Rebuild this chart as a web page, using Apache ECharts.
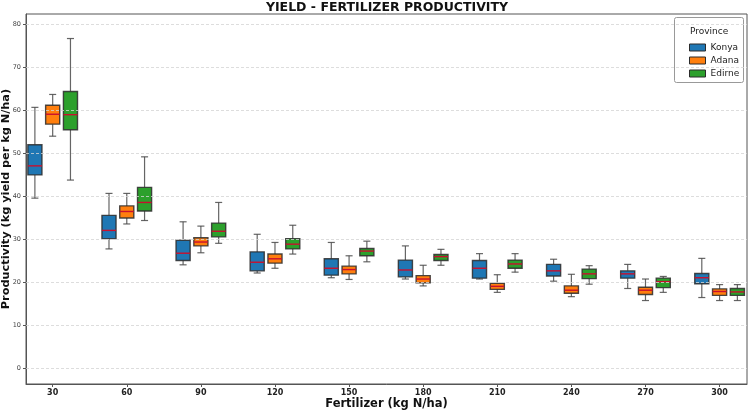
<!DOCTYPE html>
<html>
<head>
<meta charset="utf-8">
<script src="https://cdn.jsdelivr.net/npm/echarts@6/dist/echarts.min.js"></script>
<style>
  html, body { margin: 0; padding: 0; background: #fff; }
  #chart { width: 749px; height: 412px; }
</style>
</head>
<body>
<div id="chart"></div>
<script>
  // fertilizer levels (kg N/ha)
  const fertilizer = ['30', '60', '90', '120', '150', '180', '210', '240', '270', '300'];
  const yTicks = [0, 10, 20, 30, 40, 50, 60, 70, 80];
  const provinces = ['Konya', 'Adana', 'Edirne'];
  const colors = ['#1f77b4', '#ff7f0e', '#2ca02c'];

  // [low whisker, Q1, median, Q3, high whisker]
  const konya = [
    [39.5, 44.9, 47.0, 51.9, 60.6],
    [27.7, 30.1, 32.0, 35.5, 40.6],
    [24.0, 25.0, 26.7, 29.7, 34.0],
    [22.1, 22.6, 24.6, 27.0, 31.1],
    [21.0, 21.6, 23.2, 25.4, 29.2],
    [20.7, 21.2, 22.8, 25.1, 28.4],
    [20.7, 20.9, 23.2, 25.0, 26.6],
    [20.2, 21.4, 22.6, 24.1, 25.3],
    [18.5, 20.9, 21.9, 22.6, 24.1],
    [16.4, 19.6, 21.0, 22.0, 25.5]
  ];
  const adana = [
    [53.9, 56.7, 59.0, 61.1, 63.6],
    [33.5, 34.9, 36.4, 37.7, 40.6],
    [26.8, 28.4, 29.3, 30.3, 33.0],
    [23.2, 24.4, 25.4, 26.5, 29.2],
    [20.6, 21.9, 22.9, 23.7, 26.1],
    [19.1, 19.8, 20.7, 21.5, 23.9],
    [17.6, 18.3, 19.0, 19.7, 21.7],
    [16.6, 17.4, 18.1, 19.1, 21.8],
    [15.7, 17.1, 18.1, 18.8, 20.7],
    [15.7, 16.9, 17.8, 18.4, 19.4]
  ];
  const edirne = [
    [43.7, 55.4, 58.9, 64.3, 76.6],
    [34.3, 36.5, 38.5, 42.0, 49.1],
    [29.0, 30.5, 31.8, 33.7, 38.5],
    [26.5, 27.7, 28.8, 30.1, 33.2],
    [24.7, 26.1, 27.2, 27.8, 29.5],
    [23.9, 25.0, 25.9, 26.4, 27.6],
    [22.3, 23.2, 24.2, 25.1, 26.6],
    [19.5, 20.8, 21.9, 23.0, 23.8],
    [17.6, 18.7, 20.1, 20.9, 21.3],
    [15.7, 16.9, 17.7, 18.5, 19.4]
  ];
  const allStats = [konya, adana, edirne];
  const offsets = [-0.24, 0, 0.24];
  const boxW = 0.19;

  const chart = echarts.init(document.getElementById('chart'), null, { renderer: 'canvas' });

  function makeRender(offset, color) {
    return function (params, api) {
      const x = api.value(0) + offset;
      const lo = api.coord([x, api.value(1)]);
      const q1 = api.coord([x, api.value(2)]);
      const md = api.coord([x, api.value(3)]);
      const q3 = api.coord([x, api.value(4)]);
      const hi = api.coord([x, api.value(5)]);
      const w = api.size([boxW, 0])[0];
      const cx = md[0];
      const whisker = { stroke: '#4a4a4a', lineWidth: 1.2, opacity: 0.85 };
      return {
        type: 'group',
        children: [
          { type: 'line', shape: { x1: cx, y1: hi[1], x2: cx, y2: q3[1] }, style: whisker },
          { type: 'line', shape: { x1: cx, y1: q1[1], x2: cx, y2: lo[1] }, style: whisker },
          { type: 'line', shape: { x1: cx - w / 4, y1: hi[1], x2: cx + w / 4, y2: hi[1] }, style: whisker },
          { type: 'line', shape: { x1: cx - w / 4, y1: lo[1], x2: cx + w / 4, y2: lo[1] }, style: whisker },
          {
            type: 'rect',
            shape: { x: cx - w / 2, y: q3[1], width: w, height: q1[1] - q3[1] },
            style: { fill: color, stroke: '#2b2b2b', lineWidth: 1.4, strokeOpacity: 0.85 }
          },
          { type: 'line', shape: { x1: cx - w / 2, y1: md[1], x2: cx + w / 2, y2: md[1] }, style: { stroke: '#c8102e', lineWidth: 1.4 } }
        ]
      };
    };
  }

  const series = provinces.map(function (name, i) {
    return {
      name: name,
      type: 'custom',
      itemStyle: { color: colors[i], borderColor: '#2b2b2b', borderWidth: 1 },
      renderItem: makeRender(offsets[i], colors[i]),
      encode: { x: 0, y: [1, 2, 3, 4, 5] },
      data: allStats[i].map(function (s, k) { return [k].concat(s); }),
      z: 3
    };
  });

  // horizontal grid lines
  series.push({
    type: 'line',
    data: [],
    silent: true,
    z: 1,
    markLine: {
      silent: true,
      symbol: 'none',
      label: { show: false },
      lineStyle: { color: '#d4d4d4', type: [3, 2], width: 0.8 },
      data: yTicks.map(function (v) { return { yAxis: v }; })
    }
  });

  const option = {
    backgroundColor: '#fff',
    animation: false,
    title: {
      text: 'YIELD - FERTILIZER PRODUCTIVITY',
      left: 387, top: 1, padding: 0, textAlign: 'center',
      textStyle: { fontFamily: 'DejaVu Sans', fontWeight: 'bold', fontSize: 12.5, color: '#111' }
    },
    grid: {
      left: 26, right: 2, top: 14, bottom: 28,
      outerBoundsMode: 'none',
      containLabel: false,
      show: true, borderColor: '#555', borderWidth: 1, backgroundColor: 'transparent'
    },
    legend: {
      orient: 'vertical',
      left: 684, top: 38, z: 20,
      itemWidth: 16, itemHeight: 7, itemGap: 4,
      icon: 'rect',
      data: provinces,
      itemStyle: { borderColor: '#2b2b2b', borderWidth: 1 },
      textStyle: { fontFamily: 'DejaVu Sans', fontSize: 9, color: '#222' }
    },
    graphic: [
      {
        type: 'rect', left: 674, top: 17, z: 0,
        shape: { width: 69, height: 65, r: 2 },
        style: { fill: 'rgba(255,255,255,0.9)', stroke: '#999', lineWidth: 1 }
      },
      {
        type: 'text', left: 690, top: 27, z: 1,
        style: { text: 'Province', fontFamily: 'DejaVu Sans', fontSize: 9, fill: '#222' }
      }
    ],
    xAxis: {
      type: 'value',
      min: -0.36, max: 9.37,
      name: 'Fertilizer (kg N/ha)',
      nameLocation: 'middle', nameGap: 14,
      nameMoveOverlap: false,
      nameTextStyle: { fontFamily: 'DejaVu Sans', fontWeight: 'bold', fontSize: 11.5, color: '#111' },
      axisLine: { show: true, onZero: false, lineStyle: { color: '#555' } },
      axisTick: { show: true, length: 3, customValues: [0, 1, 2, 3, 4, 5, 6, 7, 8, 9], lineStyle: { color: '#555' } },
      axisLabel: {
        customValues: [0, 1, 2, 3, 4, 5, 6, 7, 8, 9],
        formatter: function (v) { return fertilizer[Math.round(v)]; },
        margin: 5,
        fontFamily: 'DejaVu Sans', fontWeight: 'bold', fontSize: 8, color: '#222'
      },
      splitLine: { show: false }
    },
    yAxis: {
      type: 'value',
      min: -3.7, max: 82.3,
      name: 'Productivity (kg yield per kg N/ha)',
      nameLocation: 'middle', nameGap: 14,
      nameMoveOverlap: false,
      nameTextStyle: { fontFamily: 'DejaVu Sans', fontWeight: 'bold', fontSize: 11.3, color: '#111' },
      axisLine: { show: true, onZero: false, lineStyle: { color: '#555' } },
      axisTick: { show: true, length: 3, customValues: yTicks, lineStyle: { color: '#555' } },
      axisLabel: {
        customValues: yTicks,
        margin: 5,
        fontFamily: 'DejaVu Sans', fontSize: 6.5, color: '#444'
      },
      splitLine: { show: false }
    },
    series: series
  };

  chart.setOption(option);
</script>
</body>
</html>
